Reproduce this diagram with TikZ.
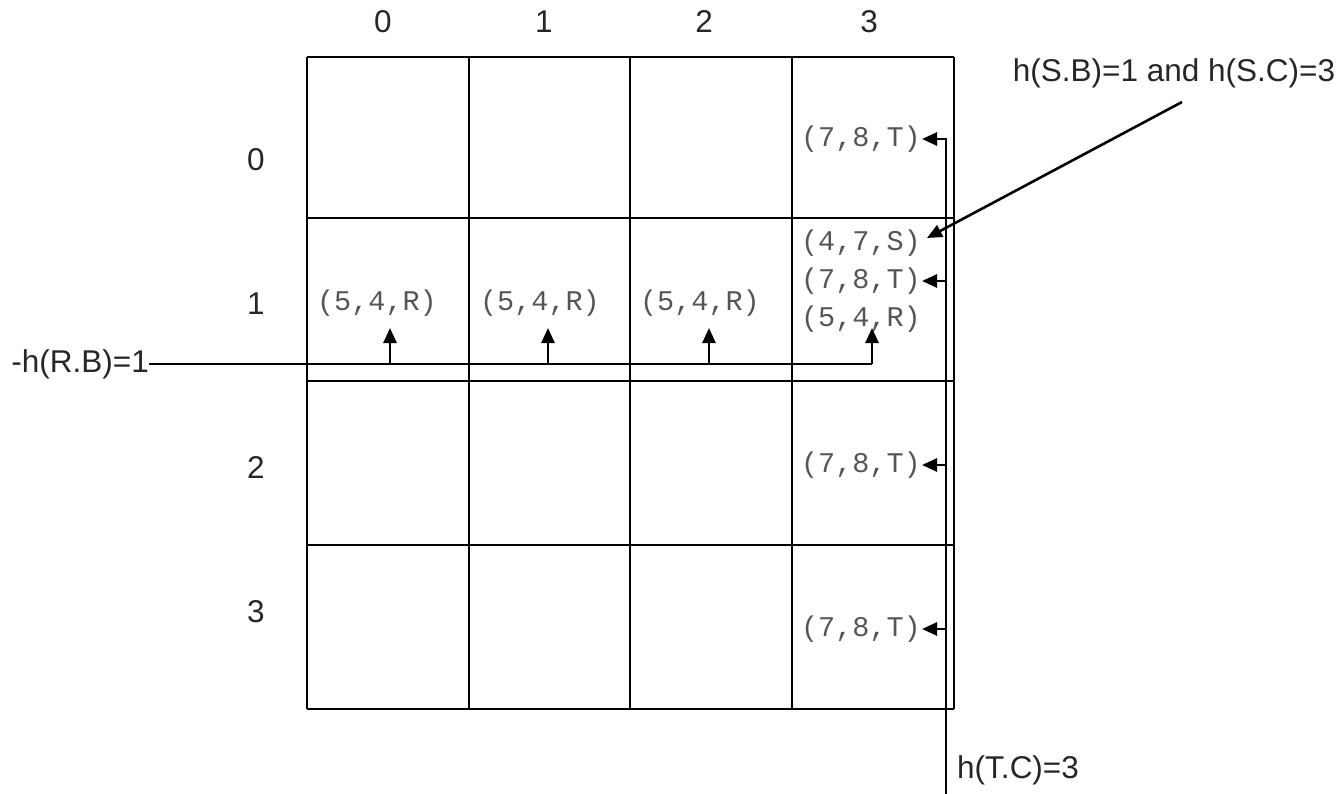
\documentclass[tikz,border=0pt]{standalone}
\usepackage{fontspec}
\setmainfont{Liberation Sans}
\newfontfamily\monof{Liberation Mono}
\usetikzlibrary{arrows.meta}
\definecolor{txtgray}{RGB}{85,85,85}
\tikzset{
  gridline/.style={line width=2.6pt, black},
  conn/.style={line width=2.6pt, black, -{Triangle[length=15pt,width=13pt]}},
  plainline/.style={line width=2.6pt, black},
  tup/.style={font=\monof\fontsize{28.5}{30}\selectfont, text=txtgray, inner sep=1pt},
  lab/.style={font=\fontsize{31.5}{34}\selectfont, text=black!85, inner sep=0pt}
}
\begin{document}
\begin{tikzpicture}[x=1pt,y=-1pt]
\useasboundingbox (0,0) rectangle (1343,794);
% grid
\foreach \x in {307,469,630,792,954} \draw[gridline] (\x,57) -- (\x,709);
\foreach \y in {57,218,381,545,709} \draw[gridline] (307,\y) -- (954,\y);
% column labels
\node[lab] (c0) at (383,22) {0};
\node[lab] (c1) at (544,22) {1};
\node[lab] (c2) at (704,22) {2};
\node[lab] (c3) at (869,22) {3};
% row labels
\node[lab] (r0) at (256,160) {0};
\node[lab] (r1) at (256,304) {1};
\node[lab] (r2) at (256,467) {2};
\node[lab] (r3) at (256,612) {3};
% tuples
\node[tup] (a10) at (377,303) {(5,4,R)};
\node[tup] (a11) at (540,303) {(5,4,R)};
\node[tup] (a12) at (700,303) {(5,4,R)};
\node[tup,anchor=east] (t03) at (922,139) {(7,8,T)};
\node[tup,anchor=east] (s13) at (922,243) {(4,7,S)};
\node[tup,anchor=east] (t13) at (922,281) {(7,8,T)};
\node[tup,anchor=east] (r13) at (922,319) {(5,4,R)};
\node[tup,anchor=east] (t23) at (922,465) {(7,8,T)};
\node[tup,anchor=east] (t33) at (922,629) {(7,8,T)};
% labels
\node[lab,anchor=east] (rb) at (149,364) {-h(R.B)=1};
\node[lab] (sb) at (1174,73) {h(S.B)=1 and h(S.C)=3};
\node[lab,anchor=west] (tc) at (957,770) {h(T.C)=3};
% T line
\coordinate (tbot) at (946,794);
\coordinate (ttop) at (946,139);
\draw[conn] (tbot) -- (ttop) -- (t03.east);
\draw[conn] (t13.east -| ttop) -- (t13.east);
\draw[conn] (t23.east -| ttop) -- (t23.east);
\draw[conn] (t33.east -| ttop) -- (t33.east);
% S arrow
\coordinate (sstart) at (1182,102);
\coordinate (send) at (927,238);
\draw[conn] (sstart) -- (send);
% R line
\coordinate (rend) at (872,364);
\coordinate (u0) at (390,364);
\coordinate (u1) at (548,364);
\coordinate (u2) at (709,364);
\draw[plainline] (rb.east) -- (rend);
\draw[conn] (u0) -- (390,328);
\draw[conn] (u1) -- (548,328);
\draw[conn] (u2) -- (709,328);
\draw[conn] (rend) -- (872,328);
\end{tikzpicture}
\end{document}
